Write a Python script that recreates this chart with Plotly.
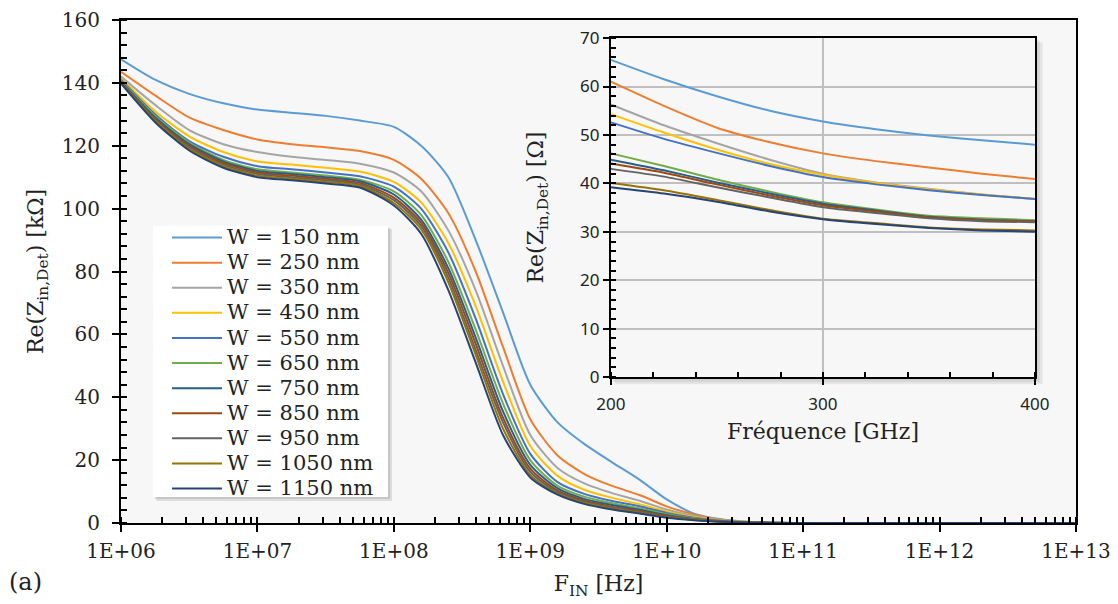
import plotly.graph_objects as go

# ---------------- data ----------------
log_f = [6.0, 6.25, 6.5, 6.75, 7.0, 7.25, 7.5, 7.75, 8.0, 8.2, 8.4, 8.6, 8.8, 9.0,
         9.2, 9.4, 9.6, 9.8, 10.0, 10.2, 10.4, 10.6, 10.8, 11.0, 12.0, 13.0]
freq_hz = [10 ** v for v in log_f]

labels = ["W = 150 nm", "W = 250 nm", "W = 350 nm", "W = 450 nm", "W = 550 nm",
          "W = 650 nm", "W = 750 nm", "W = 850 nm", "W = 950 nm", "W = 1050 nm",
          "W = 1150 nm"]
colors = ["#5B9BD5", "#ED7D31", "#A5A5A5", "#FFC000", "#4472C4", "#70AD47",
          "#255E91", "#9E480E", "#636363", "#997300", "#264478"]

w150 = [147.5, 141, 136.5, 133.5, 131.5, 130.5, 129.5, 128, 126, 120, 110, 90, 67, 44,
        32, 25, 19.3, 13.8, 7.5, 3, 1.2, 0.4, 0.1, 0, 0, 0]
w250 = [143.5, 136, 129, 125, 122, 120.5, 119.5, 118.3, 115.5, 109.5, 98.5, 80, 56, 33,
        21.5, 15.5, 11.8, 8.9, 5.3, 2.7, 1, 0.3, 0.1, 0, 0, 0]
w350 = [142, 133, 125, 120.5, 118, 116.5, 115.5, 114.3, 111.5, 105.5, 93, 74, 50, 28,
        17.5, 12.5, 9.5, 7.1, 4.3, 2.2, 0.9, 0.25, 0.05, 0, 0, 0]
w450 = [141.5, 131, 123, 118, 115, 114, 113, 111.8, 108.5, 102, 89, 69, 45, 24.5,
        15, 10.5, 8, 6.0, 3.7, 1.9, 0.8, 0.2, 0.05, 0, 0, 0]
w550 = [141, 130, 121.5, 116.5, 113.5, 112.5, 111.5, 110.3, 107, 100, 86, 65, 41, 22,
        13, 9.2, 7, 5.3, 3.2, 1.7, 0.7, 0.2, 0.05, 0, 0, 0]
w650 = [140.8, 129.5, 121, 115.5, 112.5, 111.5, 110.5, 109.2, 105.5, 98, 83, 61.5, 38, 20,
        11.8, 8.3, 6.3, 4.7, 2.8, 1.5, 0.6, 0.2, 0.05, 0, 0, 0]
w750 = [140.5, 129, 120.5, 115, 112, 111, 110, 108.7, 104.5, 96.5, 81, 59, 35.5, 18.5,
        11, 7.6, 5.7, 4.2, 2.5, 1.3, 0.55, 0.15, 0.05, 0, 0, 0]
w850 = [140.3, 128.5, 120, 114.5, 111.5, 110.5, 109.5, 108.2, 103.5, 95.5, 79.5, 57, 33.5, 17.3,
        10.3, 7.1, 5.2, 3.8, 2.2, 1.2, 0.5, 0.15, 0.03, 0, 0, 0]
w950 = [140.2, 128.2, 119.5, 114, 111, 110, 109, 107.7, 102.7, 94.5, 78, 55, 32, 16.3,
        9.8, 6.7, 4.9, 3.5, 2.0, 1.1, 0.45, 0.1, 0.03, 0, 0, 0]
w1050 = [140, 128, 119, 113.5, 110.5, 109.5, 108.5, 107.2, 101.8, 93.5, 76.5, 53.5, 30, 15.3,
         9.3, 6.3, 4.6, 3.2, 1.8, 1.0, 0.4, 0.1, 0.03, 0, 0, 0]
w1150 = [139.8, 127.5, 118.5, 113, 110, 109, 108, 106.7, 101, 92, 74, 51, 28, 14.5,
         9, 6, 4.3, 3.0, 1.7, 0.9, 0.4, 0.1, 0.03, 0, 0, 0]
main_series = [w150, w250, w350, w450, w550, w650, w750, w850, w950, w1050, w1150]

x_tick_vals = [1e6, 1e7, 1e8, 1e9, 1e10, 1e11, 1e12, 1e13]
x_tick_text = ["1E+06", "1E+07", "1E+08", "1E+09", "1E+10", "1E+11", "1E+12", "1E+13"]

# inset (Re(Z) in Ohm vs frequency in GHz)
f_ghz = [200, 225, 250, 275, 300, 325, 350, 375, 400]
i150 = [65.5, 61.5, 58, 55, 52.8, 51.2, 49.9, 48.9, 48]
i250 = [61, 56, 51.5, 48.5, 46.2, 44.6, 43.3, 42, 40.9]
i350 = [56.3, 52, 48.3, 44.9, 42, 40.2, 38.9, 37.7, 36.8]
i450 = [54.3, 50.5, 47, 44, 41.8, 40.1, 38.8, 37.7, 36.8]
i550 = [52.6, 49.2, 46.3, 43.6, 41.3, 39.8, 38.6, 37.6, 36.8]
i650 = [46.2, 43.6, 40.8, 38.3, 36.1, 34.6, 33.3, 32.8, 32.4]
i750 = [44.9, 42.7, 40.2, 37.9, 35.8, 34.4, 33.1, 32.5, 32.2]
i850 = [44.1, 42.2, 39.8, 37.5, 35.5, 34.2, 33.0, 32.4, 32.2]
i950 = [43.0, 41.4, 39.2, 37.1, 35.1, 33.9, 32.8, 32.2, 32.0]
i1050 = [40.1, 38.6, 36.6, 34.5, 32.7, 31.8, 30.9, 30.5, 30.3]
i1150 = [39.2, 37.9, 36.2, 34.2, 32.6, 31.6, 30.8, 30.3, 30.0]
inset_series = [i150, i250, i350, i450, i550, i650, i750, i850, i950, i1050, i1150]

# ---------------- figure ----------------
SERIF = "DejaVu Serif"
SANS = "Noto Sans"
TXT = "#222222"

fig = go.Figure()
for name, col, ys in zip(labels, colors, main_series):
    fig.add_trace(go.Scatter(x=freq_hz, y=ys, mode="lines",
                             name='<span style="font-size:21px">' + name + "</span>",
                             line=dict(color=col, width=2, shape="spline", smoothing=0.7),
                             xaxis="x", yaxis="y"))
for name, col, ys in zip(labels, colors, inset_series):
    fig.add_trace(go.Scatter(x=f_ghz, y=ys, mode="lines", name=name, showlegend=False,
                             line=dict(color=col, width=2, shape="spline", smoothing=0.6),
                             xaxis="x2", yaxis="y2"))

inset_dom_x = [0.513, 0.957]
inset_dom_y = [0.290, 0.964]

shapes = [
    # legend shadow + box
    dict(type="rect", xref="paper", yref="paper", x0=0.0370, x1=0.2838, y0=0.0437, y1=0.5845,
         fillcolor="rgba(0,0,0,0.10)", line=dict(width=0), layer="above"),
    dict(type="rect", xref="paper", yref="paper", x0=0.0355, x1=0.2818, y0=0.0477, y1=0.5875,
         fillcolor="rgba(0,0,0,0.10)", line=dict(width=0), layer="above"),
    dict(type="rect", xref="paper", yref="paper", x0=0.0335, x1=0.2796, y0=0.0517, y1=0.5905,
         fillcolor="white", line=dict(width=0), layer="above"),
    # inset shadow
    dict(type="rect", xref="paper", yref="paper", x0=inset_dom_x[0] + 0.004, x1=inset_dom_x[1] + 0.008,
         y0=inset_dom_y[0] - 0.014, y1=inset_dom_y[1] - 0.008,
         fillcolor="rgba(0,0,0,0.07)", line=dict(width=0), layer="below"),
    dict(type="rect", xref="paper", yref="paper", x0=inset_dom_x[0] + 0.002, x1=inset_dom_x[1] + 0.005,
         y0=inset_dom_y[0] - 0.009, y1=inset_dom_y[1] - 0.005,
         fillcolor="rgba(0,0,0,0.08)", line=dict(width=0), layer="below"),
    # inset background
    dict(type="rect", xref="paper", yref="paper", x0=inset_dom_x[0], x1=inset_dom_x[1],
         y0=inset_dom_y[0], y1=inset_dom_y[1],
         fillcolor="#efefef", line=dict(width=0), layer="below"),
]

fig.update_layout(
    width=1118, height=604,
    margin=dict(l=121, r=42, t=20, b=81, autoexpand=False),
    paper_bgcolor="white",
    plot_bgcolor="#f7f7f7",
    font=dict(family=SERIF, size=19, color=TXT),
    showlegend=True,
    legend=dict(x=0.0482, y=0.6024, xanchor="left", yanchor="top",
                bgcolor="rgba(0,0,0,0)", borderwidth=0,
                font=dict(family=SERIF, size=17, color=TXT),
                tracegroupgap=0, itemwidth=50),
    shapes=shapes,
    xaxis=dict(type="log", range=[6, 13], tickmode="array", tickvals=x_tick_vals,
               ticktext=x_tick_text, showgrid=False, zeroline=False, automargin=False,
               showline=True, linecolor="black", linewidth=2, mirror=True,
               ticks="outside", ticklen=7, tickwidth=2, tickcolor="black",
               minor=dict(ticks="inside", ticklen=6, tickwidth=1.5, tickcolor="black",
                          dtick="D1", showgrid=False),
               tickfont=dict(family=SERIF, size=20, color=TXT), ticklabelstandoff=2,
               title=dict(text="F<sub>IN</sub> [Hz]", font=dict(family=SERIF, size=22, color=TXT),
                          standoff=14)),
    yaxis=dict(range=[0, 160], dtick=20, showgrid=False, zeroline=False, automargin=False,
               showline=True, linecolor="black", linewidth=2, mirror=True,
               ticks="outside", ticklen=7, tickwidth=2, tickcolor="black",
               minor=dict(ticks="inside", ticklen=6, tickwidth=1.5, tickcolor="black",
                          dtick=4, showgrid=False),
               tickfont=dict(family=SERIF, size=20, color=TXT), ticklabelstandoff=8,
               title=dict(text="Re(Z<sub>in,Det</sub>) [kΩ]",
                          font=dict(family=SERIF, size=22, color=TXT), standoff=12)),
    xaxis2=dict(domain=inset_dom_x, anchor="y2", range=[200, 400], dtick=100, automargin=False,
                showgrid=True, gridcolor="#bfbfbf", gridwidth=1.5, zeroline=False,
                showline=True, linecolor="black", linewidth=2, mirror=True,
                ticks="outside", ticklen=6, tickwidth=2, tickcolor="black",
                minor=dict(ticks="inside", ticklen=5, tickwidth=1.5, tickcolor="black",
                           dtick=20, showgrid=False),
                tickfont=dict(family=SANS, size=17, color=TXT), ticklabelstandoff=4,
                title=dict(text="Fréquence [GHz]", font=dict(family=SERIF, size=22, color=TXT),
                           standoff=10)),
    yaxis2=dict(domain=inset_dom_y, anchor="x2", range=[0, 70], dtick=10, automargin=False,
                showgrid=True, gridcolor="#bfbfbf", gridwidth=1.5, zeroline=False,
                showline=True, linecolor="black", linewidth=2, mirror=True,
                ticks="outside", ticklen=6, tickwidth=2, tickcolor="black",
                minor=dict(ticks="inside", ticklen=5, tickwidth=1.5, tickcolor="black",
                           dtick=2, showgrid=False),
                tickfont=dict(family=SANS, size=17, color=TXT),
                title=dict(text="Re(Z<sub>in,Det</sub>) [Ω]",
                           font=dict(family=SERIF, size=22, color=TXT), standoff=30)),
    annotations=[dict(text="(a)", xref="paper", yref="paper", x=-0.1194, y=-0.117,
                      xanchor="left", yanchor="middle", showarrow=False,
                      font=dict(family=SERIF, size=24, color=TXT))],
)

fig.write_html("out.html", config={"displayModeBar": False},
               post_script="document.body.style.margin='0px';document.body.style.overflow='hidden';")
